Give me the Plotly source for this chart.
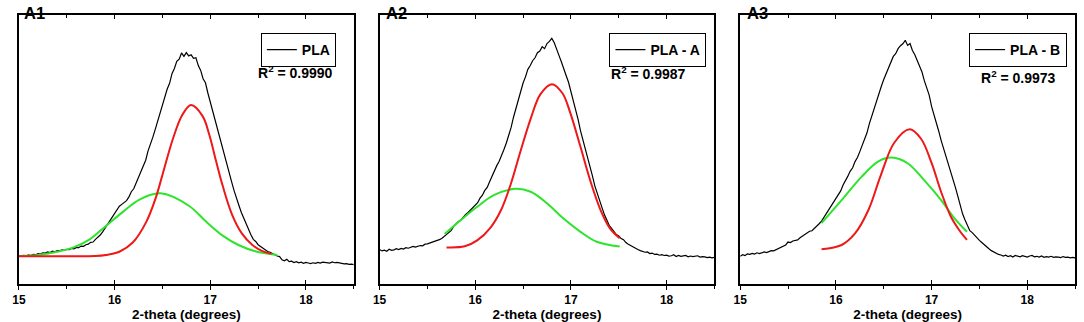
import plotly.graph_objects as go

W, H = 1084, 322

# ---------------- data (y in arbitrary intensity units) ----------------
# scan grid of the measured patterns: 15.000 ... 18.500 deg in 0.025 deg steps
x_meas = [round(15 + 0.025 * k, 3) for k in range(141)]

pla_meas = [
    10.5, 10.3, 10.6, 10.4, 10.8, 10.6, 11.0, 10.9, 11.3, 11.1,
    11.6, 11.5, 11.9, 11.7, 12.2, 12.0, 12.4, 12.3, 12.7, 12.5,
    12.9, 12.8, 13.2, 13.1, 13.6, 13.5, 14.1, 14.0, 14.6, 14.8,
    15.5, 15.6, 16.6, 17.3, 18.2, 19.4, 20.8, 21.8, 23.5, 24.8,
    26.2, 27.4, 28.9, 29.6, 30.4, 31.0, 32.4, 34.3, 35.4, 37.6,
    39.6, 41.3, 44.2, 46.0, 49.5, 51.8, 54.6, 57.5, 60.5, 63.4,
    66.6, 68.9, 72.5, 74.6, 78.2, 80.1, 82.8, 83.6, 85.9, 84.6,
    86.0, 84.8, 85.2, 83.9, 84.1, 81.2, 79.4, 76.3, 74.8, 71.0,
    67.6, 64.8, 61.2, 57.4, 54.6, 50.5, 47.8, 44.2, 41.0, 37.8,
    34.6, 31.5, 29.2, 26.6, 24.5, 22.0, 20.0, 18.3, 16.6, 15.8,
    14.6, 14.0, 13.3, 12.6, 12.1, 11.8, 11.3, 10.9, 10.4, 10.2,
    9.0, 8.6, 9.2, 8.3, 8.5, 8.0, 8.3, 7.9, 8.1, 7.7,
    8.0, 7.8, 7.6, 7.9, 7.7, 8.0, 7.8, 8.1, 8.0, 7.7,
    7.8, 8.2, 7.9, 8.0, 7.8, 7.6, 7.5, 7.6, 7.3, 7.4,
    7.2]

plaA_meas = [
    12.8, 12.3, 12.6, 12.2, 12.9, 12.5, 12.7, 13.1, 12.8, 13.2,
    13.0, 13.5, 13.3, 13.8, 14.0, 13.7, 14.1, 14.3, 14.2, 14.8,
    14.9, 15.2, 15.4, 15.9, 16.0, 16.5, 16.9, 17.6, 18.3, 19.0,
    19.9, 21.5, 22.4, 23.2, 23.8, 24.9, 25.9, 26.6, 27.5, 28.4,
    29.0, 30.2, 31.9, 33.0, 34.8, 35.9, 38.0, 40.2, 42.3, 44.0,
    45.6, 47.6, 50.0, 52.4, 55.2, 58.2, 62.0, 65.4, 68.8, 72.0,
    74.7, 77.0, 79.8, 81.2, 83.0, 84.1, 86.0, 86.6, 88.2, 87.5,
    89.4, 90.2, 91.3, 89.8, 87.0, 85.0, 82.6, 80.4, 77.5, 75.0,
    71.8, 68.4, 64.8, 61.2, 57.0, 53.8, 50.1, 46.8, 43.4, 40.2,
    36.5, 33.5, 30.6, 28.4, 25.8, 23.8, 21.8, 20.7, 19.6, 18.4,
    17.9, 16.9, 16.5, 15.4, 14.8, 14.3, 13.5, 13.3, 12.8, 12.4,
    12.2, 11.8, 11.9, 11.3, 11.5, 11.0, 11.1, 10.7, 10.9, 10.6,
    10.7, 10.4, 10.5, 10.9, 10.2, 10.6, 10.3, 10.4, 10.6, 10.1,
    10.4, 10.2, 10.3, 10.5, 10.0, 10.2, 10.1, 9.8, 10.0, 9.7,
    9.9]

plaB_meas = [
    10.3, 10.9, 10.6, 11.2, 11.0, 11.4, 11.1, 11.6, 11.3, 11.5,
    11.9, 11.7, 12.1, 12.4, 12.3, 12.8, 13.3, 13.6, 14.2, 14.5,
    15.6, 15.4, 16.0, 16.3, 16.4, 17.2, 17.8, 18.6, 19.1, 19.6,
    19.8, 20.6, 21.6, 22.4, 23.4, 24.8, 25.9, 27.5, 28.8, 30.0,
    31.5, 32.8, 34.6, 36.8, 38.2, 40.1, 42.0, 43.2, 45.5, 47.0,
    49.2, 51.6, 53.9, 56.2, 59.6, 62.4, 65.8, 67.9, 70.8, 73.5,
    76.0, 78.2, 80.5, 82.3, 84.6, 85.6, 87.5, 88.6, 89.3, 90.6,
    88.7, 89.4, 86.8, 85.2, 83.0, 80.6, 78.8, 75.5, 72.9, 70.2,
    66.0, 63.2, 60.0, 56.8, 53.4, 50.6, 47.6, 44.6, 41.4, 38.8,
    35.8, 32.6, 28.8, 26.0, 23.8, 21.6, 19.8, 19.1, 18.0, 16.9,
    16.2, 15.4, 14.6, 13.6, 13.1, 12.4, 11.9, 11.5, 11.0, 10.8,
    10.4, 10.7, 10.2, 10.5, 10.0, 10.6, 10.3, 10.1, 10.5, 10.2,
    10.0, 10.4, 10.6, 10.1, 10.3, 10.0, 10.4, 9.9, 10.2, 10.0,
    10.3, 9.9, 10.1, 10.0, 9.8, 10.2, 9.9, 10.0, 9.7, 9.9,
    9.7]

# fitted component peaks (red = narrow component, green = broad component)
pla_red_x = [15.00, 15.50, 15.80, 15.91, 16.05, 16.19, 16.33, 16.43, 16.50, 16.61, 16.71,
             16.80, 16.92, 16.99, 17.06, 17.13, 17.23, 17.33, 17.44, 17.54, 17.64]
pla_red_y = [10.3, 10.3, 10.4, 10.8, 12.0, 15.4, 23.0, 32.0, 40.5, 54.0, 63.0,
             66.5, 62.4, 55.5, 45.8, 36.5, 25.6, 18.8, 14.5, 12.3, 11.2]
pla_green_x = [15.00, 15.22, 15.40, 15.57, 15.74, 15.91, 16.09, 16.26, 16.48, 16.78,
               16.95, 17.13, 17.30, 17.47, 17.70]
pla_green_y = [10.4, 10.9, 12.0, 13.6, 16.6, 21.6, 26.9, 31.4, 33.7, 29.0,
               23.4, 18.0, 14.4, 12.2, 10.8]

plaA_red_x = [15.70, 15.89, 16.02, 16.16, 16.27, 16.37, 16.47, 16.58, 16.68, 16.80,
              16.91, 16.99, 17.10, 17.20, 17.31, 17.41, 17.51]
plaA_red_y = [13.6, 14.0, 16.2, 21.0, 27.5, 37.0, 49.0, 61.5, 70.5, 74.3,
              71.0, 64.0, 51.0, 38.7, 27.5, 20.6, 17.0]
plaA_green_x = [15.68, 15.85, 16.02, 16.20, 16.42, 16.58, 16.75, 16.92, 17.10, 17.27, 17.51]
plaA_green_y = [18.6, 23.8, 28.7, 33.1, 35.4, 34.3, 30.0, 24.4, 19.4, 15.7, 13.9]

plaB_red_x = [15.85, 16.06, 16.20, 16.34, 16.47, 16.61, 16.77, 16.89, 17.00, 17.10,
              17.20, 17.29, 17.37]
plaB_red_y = [12.9, 14.5, 18.8, 27.5, 40.5, 52.5, 57.5, 54.0, 45.0, 34.2,
              25.2, 20.0, 16.4]
plaB_green_x = [15.85, 16.06, 16.27, 16.44, 16.58, 16.75, 16.92, 17.10, 17.24, 17.37]
plaB_green_y = [22.6, 31.2, 39.9, 45.5, 47.0, 44.9, 38.7, 31.2, 24.4, 19.4]

panel_titles = ["A1", "A2", "A3"]
sample_names = ["PLA", "PLA - A", "PLA - B"]
r2_labels = ["R<sup>2</sup> = 0.9990", "R<sup>2</sup> = 0.9987", "R<sup>2</sup> = 0.9973"]
x_ticks = [15, 16, 17, 18]

measured = [pla_meas, plaA_meas, plaB_meas]
reds = [(pla_red_x, pla_red_y), (plaA_red_x, plaA_red_y), (plaB_red_x, plaB_red_y)]
greens = [(pla_green_x, pla_green_y), (plaA_green_x, plaA_green_y), (plaB_green_x, plaB_green_y)]
for m in measured:
    assert len(m) == len(x_meas)

# ---------------- layout geometry (pixels) ----------------
FONT = "Liberation Sans, Arial, Helvetica, sans-serif"
panel_px = [(12, 349), (375, 712), (738, 1075)]
plot_top, plot_bot = 15, 284
legend_right = [331, 704, 1067]
r2_center_x = [290, 646, 1018]
r2_center_y = [72, 73, 77]
title_center = [28, 392, 755]

RED = "rgb(238,24,24)"
GREEN = "rgb(45,228,45)"

fig = go.Figure()
ydom = [1 - plot_bot / H, 1 - plot_top / H]
tick_common = dict(showgrid=False, zeroline=False, range=[15, 18.5], fixedrange=True,
                   tickmode="array", tickvals=x_ticks)

for i in range(3):
    n = i + 1
    xa = "x" if n == 1 else f"x{n}"
    ya = "y" if n == 1 else f"y{n}"
    leg = "legend" if n == 1 else f"legend{n}"
    fig.add_trace(go.Scatter(x=x_meas, y=measured[i], mode="lines", name=sample_names[i],
                             line=dict(color="black", width=1.2),
                             xaxis=xa, yaxis=ya, legend=leg, showlegend=True))
    fig.add_trace(go.Scatter(x=greens[i][0], y=greens[i][1], mode="lines",
                             line=dict(color=GREEN, width=2, shape="spline", smoothing=1.0),
                             xaxis=xa, yaxis=ya, showlegend=False, hoverinfo="skip"))
    fig.add_trace(go.Scatter(x=reds[i][0], y=reds[i][1], mode="lines",
                             line=dict(color=RED, width=2, shape="spline", smoothing=1.0),
                             xaxis=xa, yaxis=ya, showlegend=False, hoverinfo="skip"))

    x0, x1 = panel_px[i]
    xkey = "xaxis" if n == 1 else f"xaxis{n}"
    ykey = "yaxis" if n == 1 else f"yaxis{n}"
    fig.update_layout(**{
        xkey: dict(domain=[x0 / W, x1 / W], anchor=ya,
                   showline=True, mirror=True, linecolor="black", linewidth=1.5,
                   ticktext=[str(t) for t in x_ticks],
                   ticks="outside", ticklen=4, tickwidth=1.3, tickcolor="black",
                   minor=dict(dtick=0.5, tick0=15, ticks="outside", ticklen=3, tickwidth=1, tickcolor="black"),
                   tickfont=dict(family=FONT, size=12, color="black", weight="bold"),
                   title=dict(text="2-theta (degrees)", standoff=1,
                              font=dict(family=FONT, size=13.5, color="black", weight="bold")),
                   **tick_common),
        ykey: dict(domain=ydom, range=[0, 100], anchor=xa,
                   showline=True, mirror=True, linecolor="black", linewidth=1.5,
                   showgrid=False, zeroline=False, showticklabels=False, ticks="",
                   fixedrange=True),
        leg: dict(x=legend_right[i] / W, y=1 - 33 / H, xanchor="right", yanchor="top",
                  xref="paper", yref="paper",
                  bordercolor="black", borderwidth=1, bgcolor="white",
                  font=dict(family=FONT, size=14, color="black", weight="bold"),
                  itemwidth=30, tracegroupgap=0),
    })

    fig.add_annotation(x=r2_center_x[i] / W, y=1 - r2_center_y[i] / H, xref="paper", yref="paper",
                       text=r2_labels[i], showarrow=False, xanchor="center", yanchor="middle",
                       font=dict(family=FONT, size=14, color="black", weight="bold"))
    fig.add_annotation(x=title_center[i] / W, y=1 - 12.5 / H, xref="paper", yref="paper",
                       text=panel_titles[i], showarrow=False, xanchor="center", yanchor="middle",
                       font=dict(family=FONT, size=16.5, color="black", weight="bold"))

# overlay axes: inner half of the crossing bottom ticks, and inward ticks along the top edge
for i in range(3):
    n = i + 1
    base = "x" if n == 1 else f"x{n}"
    ya = "y" if n == 1 else f"y{n}"
    x0, x1 = panel_px[i]
    kb, kt = n + 3, n + 6
    for k in (kb, kt):
        fig.add_trace(go.Scatter(x=[], y=[], xaxis=f"x{k}", yaxis=ya, showlegend=False, hoverinfo="skip"))
    fig.update_layout(**{
        f"xaxis{kb}": dict(overlaying=base, anchor=ya, side="bottom", domain=[x0 / W, x1 / W],
                           showline=False, showticklabels=False,
                           ticks="inside", ticklen=4, tickwidth=1.3, tickcolor="black",
                           **tick_common),
        f"xaxis{kt}": dict(overlaying=base, anchor=ya, side="top", domain=[x0 / W, x1 / W],
                           showline=False, showticklabels=False,
                           ticks="inside", ticklen=4, tickwidth=1.3, tickcolor="black",
                           minor=dict(dtick=0.5, tick0=15, ticks="inside", ticklen=3, tickwidth=1, tickcolor="black"),
                           **tick_common),
    })

fig.update_layout(width=W, height=H, margin=dict(l=0, r=0, t=0, b=0),
                  paper_bgcolor="white", plot_bgcolor="white", showlegend=True)

fig.write_html("out.html", config={"displayModeBar": False},
               post_script="document.body.style.margin='0';document.body.style.overflow='hidden';")
